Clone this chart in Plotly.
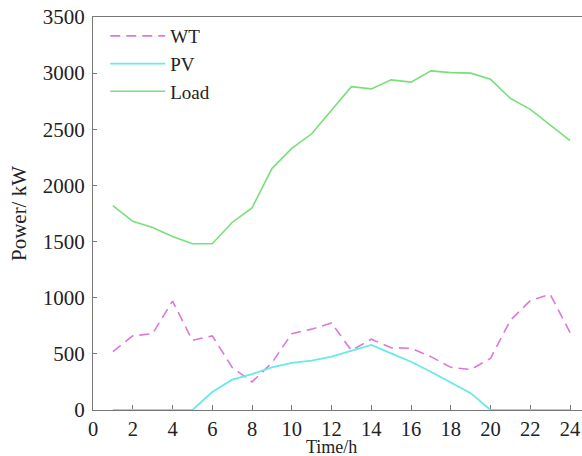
import plotly.graph_objects as go

hours = list(range(1, 25))
wt = [520, 660, 680, 970, 620, 660, 380, 250, 420, 680, 720, 775,
      530, 630, 555, 550, 475, 380, 360, 460, 800, 975, 1030, 690]
pv = [0, 0, 0, 0, 0, 160, 270, 320, 380, 420, 440, 475,
      528, 580, 505, 430, 340, 245, 150, 0, 0, 0, 0, 0]
load = [1820, 1680, 1625, 1545, 1480, 1480, 1670, 1800, 2150, 2330, 2460, 2670,
        2880, 2860, 2940, 2920, 3020, 3005, 3000, 2945, 2775, 2677, 2540, 2400]
x_ticks = list(range(0, 25, 2))
y_ticks = list(range(0, 3501, 500))

FONT = "Liberation Serif"
TICKFONT = dict(family=FONT, size=21, color="#222222")
XTICKFONT = dict(family=FONT, size=20.5, color="#222222")

fig = go.Figure()
fig.add_trace(go.Scatter(x=hours, y=wt, mode="lines", name="WT",
                         line=dict(color="#dd77dd", width=1.6, dash="10px,6px")))
fig.add_trace(go.Scatter(x=hours, y=pv, mode="lines", name="PV",
                         line=dict(color="#66eaea", width=1.8)))
fig.add_trace(go.Scatter(x=hours, y=load, mode="lines", name="Load",
                         line=dict(color="#77e077", width=1.6)))

fig.update_layout(
    width=582, height=456,
    margin=dict(l=93, r=0, t=17, b=46),
    paper_bgcolor="white", plot_bgcolor="white",
    font=dict(family=FONT, size=21, color="#222222"),
    showlegend=True,
    legend=dict(x=0.025, y=1.0, xanchor="left", yanchor="top",
                bgcolor="rgba(0,0,0,0)", font=dict(family=FONT, size=19, color="#222222"),
                itemwidth=55, tracegroupgap=0),
    xaxis=dict(range=[0, 24.6], tickvals=x_ticks, ticktext=[str(v) for v in x_ticks],
               tickfont=XTICKFONT,
               showgrid=False, zeroline=False, showline=True, linecolor="#777777",
               linewidth=1.2, mirror=True, ticks="inside", ticklen=5, tickcolor="#777777",
               ticklabelstandoff=0, layer="below traces", automargin=False),
    yaxis=dict(range=[0, 3500], tickvals=y_ticks, ticktext=[str(v) for v in y_ticks],
               tickfont=TICKFONT,
               showgrid=False, zeroline=False, showline=True, linecolor="#777777",
               linewidth=1.2, ticks="inside", ticklen=4, tickcolor="#777777",
               ticklabelstandoff=3, layer="below traces", automargin=False,
               title=dict(text="Power/ kW", font=dict(family=FONT, size=21, color="#222222"),
                          standoff=10)),
    annotations=[dict(text="Time/h", xref="x", yref="paper", x=12, y=0, yshift=-37,
                      xanchor="center", yanchor="middle", showarrow=False,
                      font=dict(family=FONT, size=18, color="#222222"))],
)

fig.write_html("out.html")
